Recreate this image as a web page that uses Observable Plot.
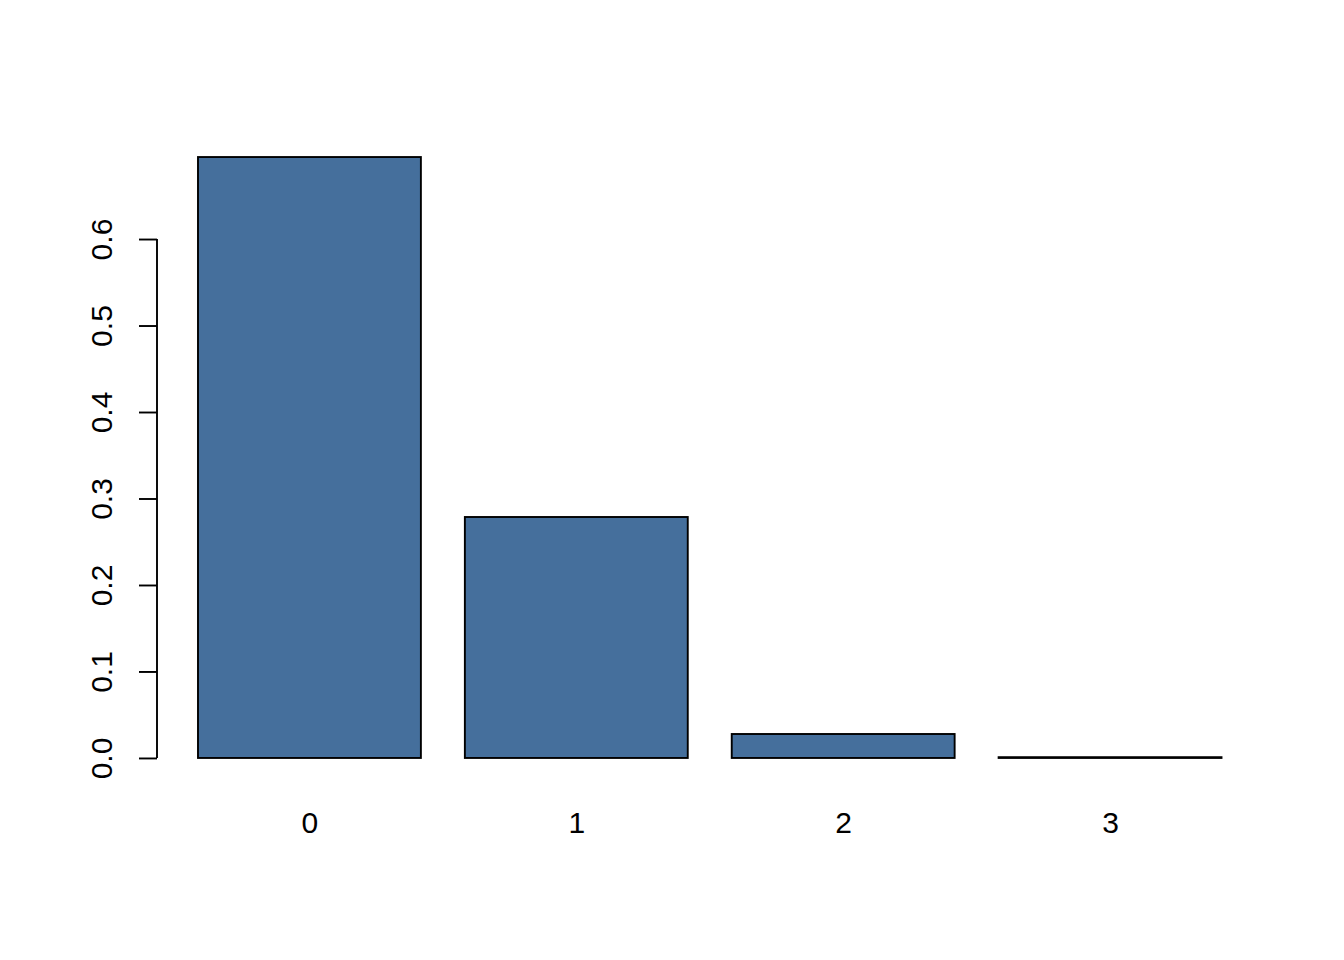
<!DOCTYPE html>
<html>
<head>
<meta charset="utf-8">
<script src="https://cdn.jsdelivr.net/npm/d3@7"></script>
<script src="https://cdn.jsdelivr.net/npm/@observablehq/plot@0.6"></script>
<style>
  html, body { margin: 0; padding: 0; background: #fff; }
  #chart svg { display: block; }
</style>
</head>
<body>
<div id="chart"></div>
<script>
const categories = ["0", "1", "2", "3"];
const values = [0.6948, 0.2786, 0.0277, 0.0009];
const yTicks = [0, 0.1, 0.2, 0.3, 0.4, 0.5, 0.6];

const data = categories.map((c, i) => ({k: c, v: values[i]}));

const ymax = d3.max(values);
const ext = ymax * 0.04;
const FONT = "Liberation Sans, Arial, sans-serif";
const LW = 1.9;

// y axis domain line from 0 to last tick
function yAxisLine(index, scales, channels, dimensions) {
  const x = dimensions.marginLeft;
  const line = d3.create("svg:line")
    .attr("x1", x).attr("x2", x)
    .attr("y1", scales.y(yTicks[0]))
    .attr("y2", scales.y(yTicks[yTicks.length - 1]))
    .attr("stroke", "black")
    .attr("stroke-width", LW);
  return line.node();
}

const chart = Plot.plot({
  width: 1344,
  height: 960,
  marginLeft: 157,
  marginRight: 81.5,
  marginTop: 133,
  marginBottom: 178,
  style: {fontFamily: FONT, fontSize: "30px", color: "black", background: "white"},
  x: {type: "band", domain: categories, paddingInner: 0.1648, paddingOuter: 0.1536, round: false, axis: null},
  y: {domain: [-ext, ymax + ext], axis: null},
  marks: [
    Plot.rectY(data, {x: "k", y1: 0, y2: "v", fill: "#456f9c", stroke: "black", strokeWidth: LW}),
    Plot.axisX({tickSize: 0, tickPadding: 29, fontSize: 30, fill: "black", label: null}),
    Plot.axisY({ticks: yTicks, tickFormat: d3.format(".1f"), tickSize: 18, tickPadding: 28,
      tickRotate: -90, fontSize: 30, strokeWidth: LW, stroke: "black", fill: "black", label: null}),
    yAxisLine
  ]
});
document.getElementById("chart").appendChild(chart);
</script>
</body>
</html>
